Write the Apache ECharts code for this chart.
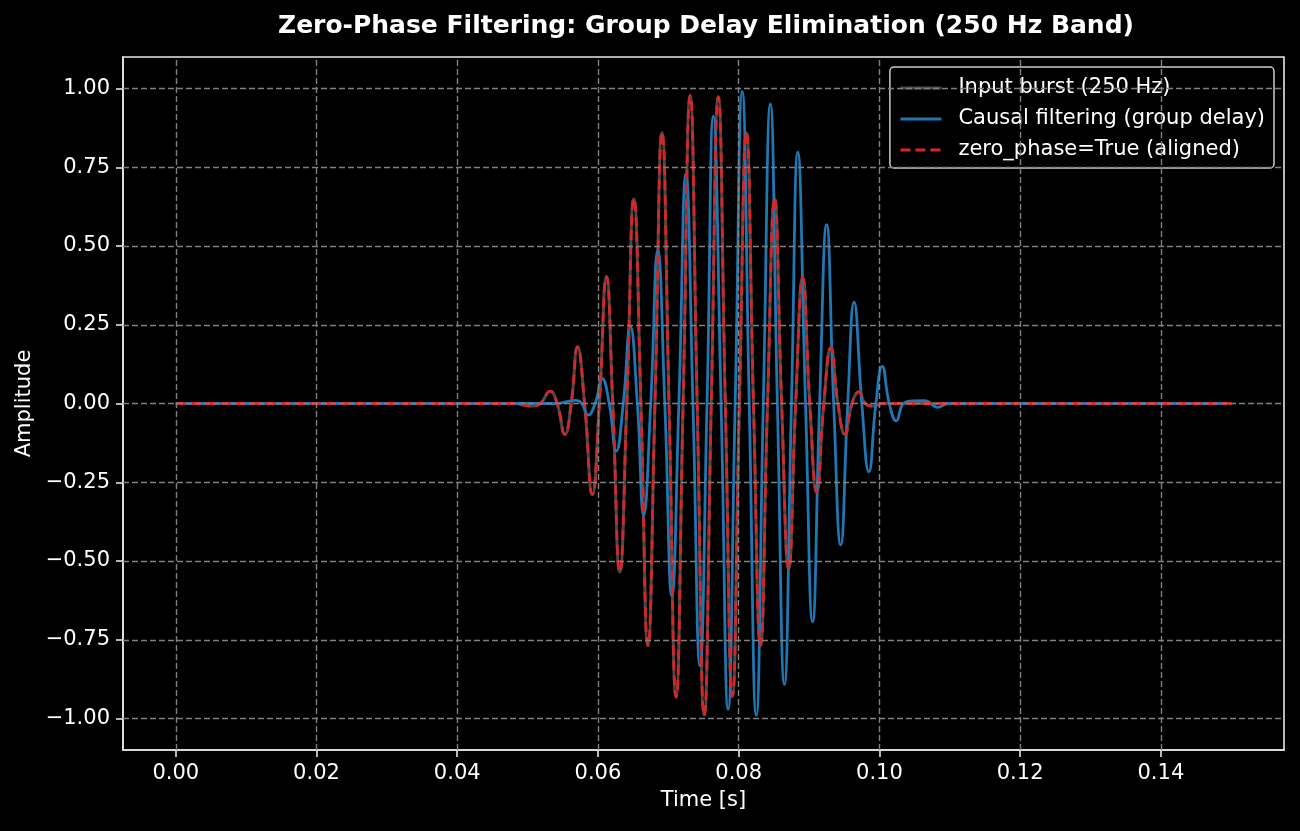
<!DOCTYPE html>
<html>
<head>
<meta charset="utf-8">
<title>Zero-Phase Filtering</title>
<script src="https://cdn.jsdelivr.net/npm/echarts@6/dist/echarts.min.js"></script>
<style>
  html, body { margin: 0; padding: 0; background: #000; }
  #chart { width: 1300px; height: 831px; }
</style>
</head>
<body>
<div id="chart"></div>
<script>
// tick positions
const xTicks = [0, 0.02, 0.04, 0.06, 0.08, 0.1, 0.12, 0.14]
const yTicks = [-1, -0.75, -0.5, -0.25, 0, 0.25, 0.5, 0.75, 1]

// zero-phase output [time s, amplitude] - peaks, troughs and zero crossings
const zeroPhaseOut = [
  [0, 0], [0.048, 0], [0.0505, -0.008], [0.0518, 0],
  [0.0532, 0.039], [0.0542, 0], [0.0553, -0.098], [0.0562, 0],
  [0.0571, 0.18], [0.0581, 0], [0.0592, -0.289], [0.0602, 0],
  [0.0612, 0.403], [0.0621, 0], [0.0631, -0.535], [0.0641, 0],
  [0.0651, 0.65], [0.0661, 0], [0.0671, -0.768], [0.0681, 0],
  [0.0691, 0.86], [0.0701, 0], [0.0711, -0.932], [0.0721, 0],
  [0.0731, 0.978], [0.0741, 0], [0.0751, -0.99], [0.0761, 0],
  [0.0771, 0.974], [0.0781, 0], [0.0791, -0.93], [0.0801, 0],
  [0.0811, 0.86], [0.0821, 0], [0.0831, -0.768], [0.0841, 0],
  [0.0851, 0.65], [0.0861, 0], [0.0871, -0.525], [0.0881, 0],
  [0.0891, 0.4], [0.0901, 0], [0.0911, -0.282], [0.0921, 0],
  [0.0931, 0.177], [0.0941, 0], [0.0951, -0.098], [0.0961, 0],
  [0.0971, 0.037], [0.098, 0], [0.0992, -0.008], [0.1005, 0],
  [0.15, 0]
]

// the input burst lies right under the zero-phase trace
const inputBurst = zeroPhaseOut

// causal (delayed) output
const causalOut = [
  [0, 0], [0.054, 0], [0.0568, 0.01], [0.0577, 0],
  [0.0586, -0.037], [0.0596, 0], [0.0606, 0.079], [0.0616, 0],
  [0.0626, -0.151], [0.0636, 0], [0.0646, 0.245], [0.0656, 0],
  [0.0665, -0.354], [0.0675, 0], [0.0685, 0.486], [0.0695, 0],
  [0.0705, -0.61], [0.0715, 0], [0.0725, 0.728], [0.0735, 0],
  [0.0745, -0.833], [0.0755, 0], [0.0764, 0.912], [0.0775, 0],
  [0.0785, -0.971], [0.0795, 0], [0.0805, 0.991], [0.0815, 0],
  [0.0825, -0.99], [0.0835, 0], [0.0845, 0.951], [0.0855, 0],
  [0.0865, -0.892], [0.0875, 0], [0.0884, 0.798], [0.0895, 0],
  [0.0905, -0.693], [0.0915, 0], [0.0925, 0.568], [0.0935, 0],
  [0.0945, -0.449], [0.0955, 0], [0.0964, 0.322], [0.0975, 0],
  [0.0985, -0.217], [0.0995, 0], [0.1004, 0.118], [0.1014, 0],
  [0.1024, -0.055], [0.1034, 0], [0.1046, 0.008], [0.1064, 0.009],
  [0.1083, -0.012], [0.1098, 0], [0.15, 0]
]

const seriesNames = ['Input burst (250 Hz)', 'Causal filtering (group delay)', 'zero_phase=True (aligned)']

const font = 'DejaVu Sans'
const spine = '#e6e6e6'
const fmt = (v) => v.toFixed(2).replace('-', '\u2212')

const chart = echarts.init(document.getElementById('chart'))

const option = {
  backgroundColor: '#000',
  animation: false,
  title: {
    text: 'Zero-Phase Filtering: Group Delay Elimination (250 Hz Band)',
    left: 701,
    top: 9,
    textAlign: 'center',
    textStyle: { color: '#fff', fontSize: 25, fontWeight: 'bold', fontFamily: font },
  },
  grid: {
    left: 123, right: 16, top: 57, bottom: 81,
    show: true, borderColor: spine, borderWidth: 1.6, backgroundColor: 'transparent',
  },
  legend: {
    data: seriesNames,
    orient: 'vertical',
    right: 26,
    top: 67,
    itemWidth: 41,
    itemHeight: 12,
    itemGap: 9,
    padding: [10, 9, 7, 9],
    backgroundColor: 'rgba(0,0,0,0.8)',
    borderColor: '#cccccc',
    borderWidth: 1.5,
    borderRadius: 4,
    itemStyle: { opacity: 0 },
    lineStyle: { width: 3 },
    textStyle: { color: '#fff', fontSize: 21, fontFamily: font, lineHeight: 22, padding: [0, 0, 0, 12] },
  },
  xAxis: {
    type: 'value',
    min: -0.0075,
    max: 0.1575,
    name: 'Time [s]',
    nameLocation: 'middle',
    nameGap: 40,
    nameTextStyle: { color: '#fff', fontSize: 21, fontFamily: font },
    splitLine: { show: false },
    axisLine: { onZero: false, lineStyle: { color: spine, width: 1.6 } },
    axisTick: { customValues: xTicks, length: 7, lineStyle: { color: spine, width: 1.6 } },
    axisLabel: { customValues: xTicks, formatter: fmt, color: '#fff', fontSize: 21, fontFamily: font, margin: 13 },
  },
  yAxis: {
    type: 'value',
    min: -1.1,
    max: 1.1,
    name: 'Amplitude',
    nameLocation: 'middle',
    nameGap: 85,
    nameTextStyle: { color: '#fff', fontSize: 21, fontFamily: font },
    splitLine: { show: false },
    axisLine: { onZero: false, lineStyle: { color: spine, width: 1.6 } },
    axisTick: { customValues: yTicks, length: 7, lineStyle: { color: spine, width: 1.6 } },
    axisLabel: { customValues: yTicks, formatter: fmt, color: '#fff', fontSize: 21, fontFamily: font, margin: 13 },
  },
  series: [
    {
      // dashed grid drawn behind the traces
      name: 'grid',
      type: 'line',
      data: [[0, 0]],
      symbol: 'none',
      lineStyle: { opacity: 0 },
      z: 1,
      markLine: {
        silent: true,
        symbol: ['none', 'none'],
        label: { show: false },
        lineStyle: { color: '#808080', type: [6, 3], width: 1.4 },
        data: [
          ...yTicks.map((v) => ({ yAxis: v })),
          ...xTicks.map((v) => ({ xAxis: v })),
        ],
      },
    },
    {
      name: seriesNames[0],
      type: 'line',
      data: inputBurst,
      smooth: true,
      symbol: 'none',
      color: '#4a4a4a',
      lineStyle: { width: 3 },
      z: 2,
    },
    {
      name: seriesNames[1],
      type: 'line',
      data: causalOut,
      smooth: true,
      symbol: 'none',
      color: '#1f77b4',
      lineStyle: { width: 2.8 },
      z: 3,
    },
    {
      name: seriesNames[2],
      type: 'line',
      data: zeroPhaseOut,
      smooth: true,
      symbol: 'none',
      color: '#d62728',
      lineStyle: { width: 2.8, type: [10, 5] },
      z: 4,
    },
  ],
}

chart.setOption(option)
</script>
</body>
</html>
